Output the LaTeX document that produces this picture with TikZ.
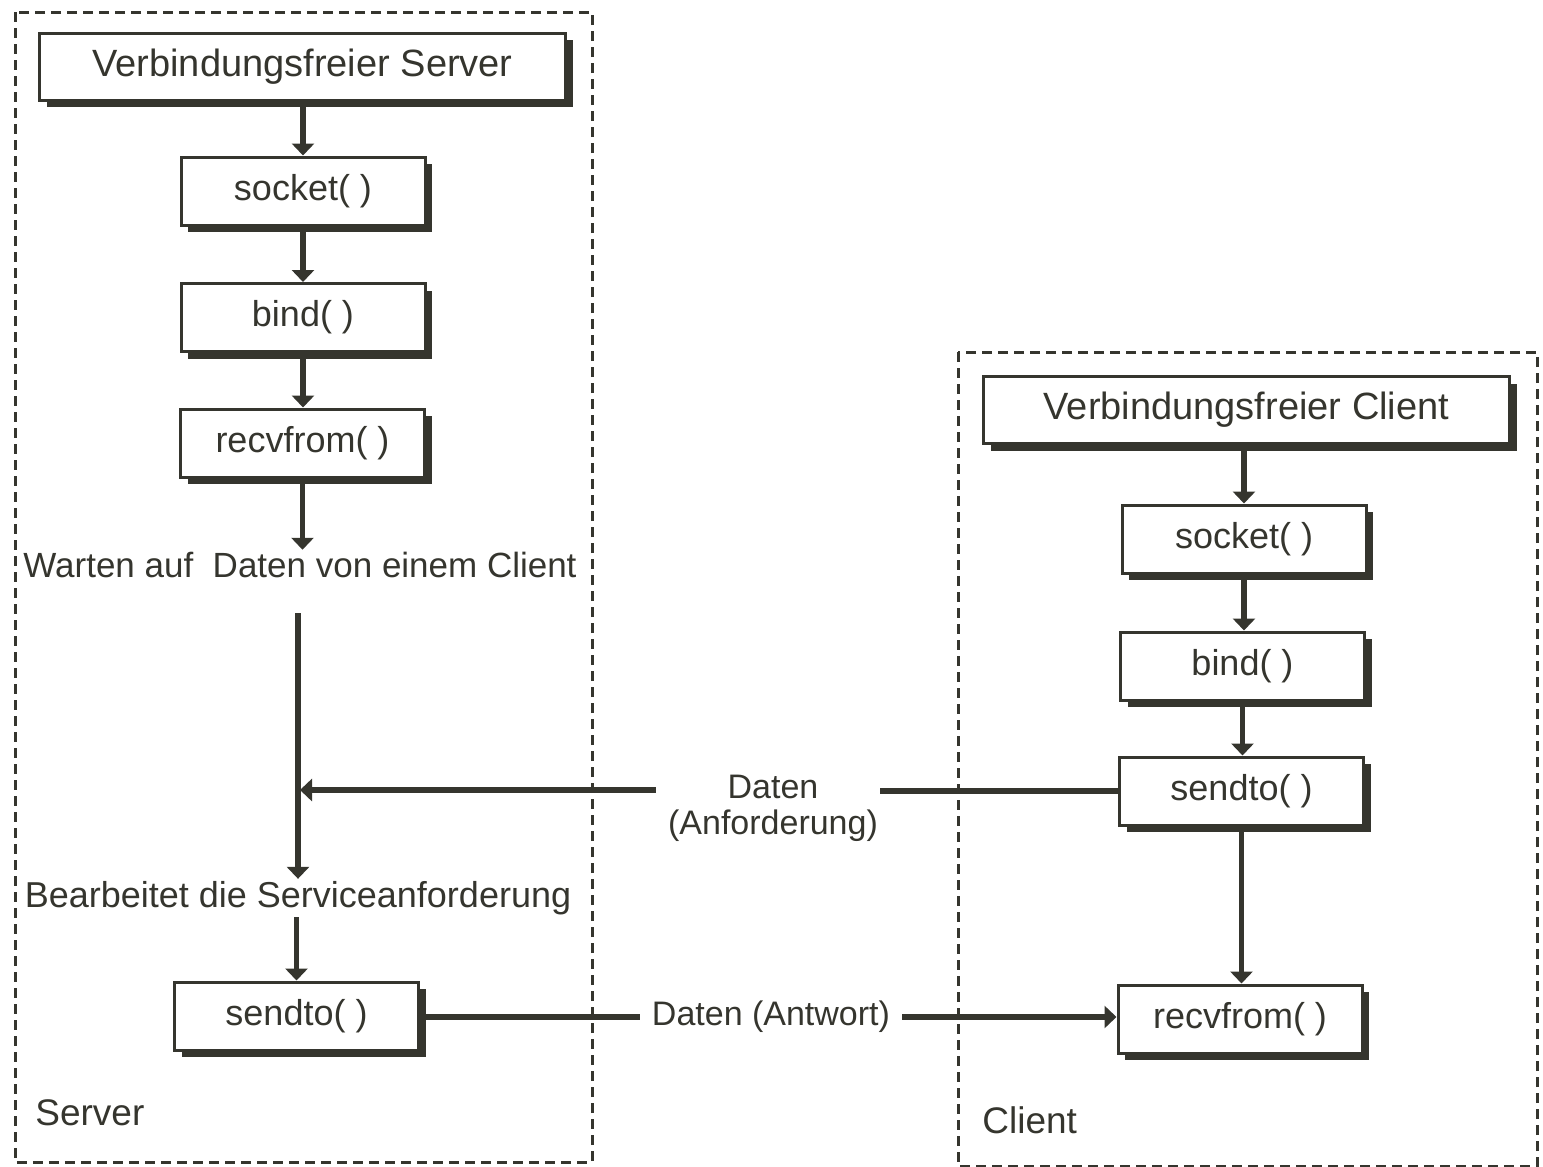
\documentclass[tikz,border=0pt]{standalone}
\usepackage{fontspec}
\setmainfont{Liberation Sans}
\usetikzlibrary{shadows,arrows.meta,backgrounds}
\definecolor{ink}{HTML}{35352E}
\begin{document}
\begin{tikzpicture}[x=0.5pt,y=-0.5pt,
  fbox/.style={draw=ink,line width=1.5pt,fill=white,inner sep=0pt,
    minimum width=122pt,minimum height=34pt,font=\fontsize{18}{20}\selectfont,text=ink,
    drop shadow={shadow xshift=3.5pt,shadow yshift=-3.5pt,fill=ink,opacity=1}},
  tbox/.style={fbox,minimum width=263pt,minimum height=33.5pt,font=\fontsize{19}{22}\selectfont},
  lbl/.style={inner sep=1pt,text=ink,font=\fontsize{17.5}{20}\selectfont},
  conn/.style={draw=ink,line width=2.6pt},
  arr/.style={conn,-{Triangle[width=11pt,length=6pt]}},
  frame/.style={draw=ink,line width=1.5pt,dash pattern=on 5pt off 3pt}]
\useasboundingbox (0,0) rectangle (1543,1167);
% frames
\draw[frame] (15,12) rectangle (592,1162);
\draw[frame] (958,352) rectangle (1537,1166);
% server
\node[tbox] (stitle) at (302.5,66.5) {Verbindungsfreier Server};
\node[fbox] (ssock) at (303,191) {socket( )};
\node[fbox] (sbind) at (303,317.5) {bind( )};
\node[fbox] (srecv) at (302.5,443) {recvfrom( )};
\node[lbl] (warten) at (300,565) {Warten auf\ \ Daten von einem Client};
\coordinate (vtop) at (298,613);
\node[lbl,font=\fontsize{18}{20}\selectfont] (bearb) at (298,898) {Bearbeitet die Serviceanforderung};
\node[fbox] (ssend) at (296.5,1016) {sendto( )};
\node[lbl,font=\fontsize{18.5}{20}\selectfont,anchor=west] (slab) at (33,1113) {Server};
% client
\node[tbox] (ctitle) at (1246.5,410) {Verbindungsfreier Client};
\node[fbox] (csock) at (1244,539) {socket( )};
\node[fbox] (cbind) at (1242.5,666) {bind( )};
\node[fbox] (csend) at (1241.5,791) {sendto( )};
\node[fbox] (crecv) at (1240,1019) {recvfrom( )};
\node[lbl,font=\fontsize{18.5}{20}\selectfont,anchor=west] (clab) at (980,1120) {Client};
% messages
\node[lbl,align=center,font=\fontsize{17}{18}\selectfont] (anf) at (773,808) {Daten\\(Anforderung)};
\coordinate (hit) at (298,790);
\node[lbl,font=\fontsize{17}{20}\selectfont] (antw) at (771,1017) {Daten (Antwort)};
\begin{scope}[on background layer]
\draw[arr] (stitle.south -| ssock.north) -- (ssock.north);
\draw[arr] (ssock.south) -- (sbind.north -| ssock.south);
\draw[arr] (sbind.south) -- (srecv.north -| sbind.south);
\draw[arr] (srecv.south) -- (warten.north -| srecv.south);
\draw[arr] (vtop) -- (bearb.north -| vtop);
\draw[arr] (bearb.south -| ssend.north) -- (ssend.north);
\draw[arr] (ctitle.south -| csock.north) -- (csock.north);
\draw[arr] (csock.south) -- (cbind.north -| csock.south);
\draw[arr] (cbind.south) -- (csend.north -| cbind.south);
\draw[arr] (csend.south) -- (crecv.north -| csend.south);
\draw[conn] (csend.west) -- (anf.east |- csend.west);
\draw[arr] ([xshift=-5pt]anf.west |- hit) -- ([xshift=1pt]hit);
\draw[conn] (ssend.east |- antw) -- ([xshift=-5pt]antw.west);
\draw[arr] ([xshift=5pt]antw.east) -- (crecv.west |- antw);
\end{scope}
\end{tikzpicture}
\end{document}
